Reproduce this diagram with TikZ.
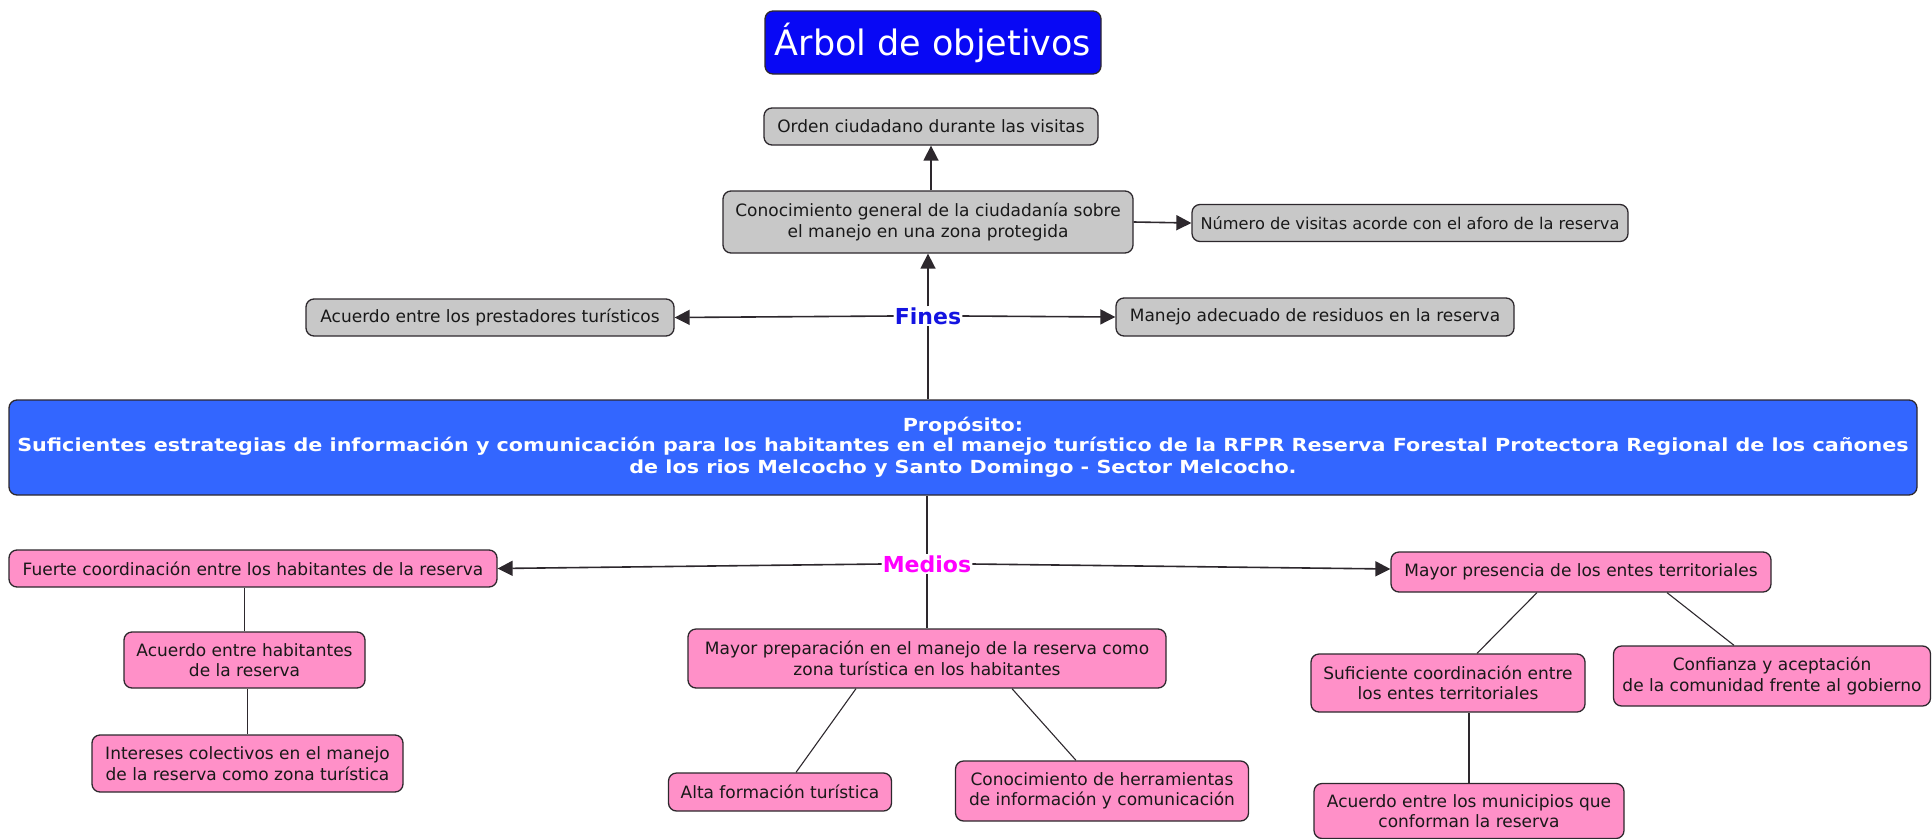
\documentclass[tikz,border=0pt]{standalone}
\usepackage{fontspec}
\setmainfont{DejaVu Sans}
\newfontfamily\propfont{DejaVu Sans}[FakeStretch=1.15]
\usetikzlibrary{arrows.meta}
\definecolor{grayfill}{RGB}{200,200,200}
\definecolor{pinkfill}{RGB}{255,144,200}
\definecolor{propblue}{RGB}{51,102,255}
\definecolor{titleblue}{RGB}{8,8,245}
\definecolor{finesblue}{RGB}{20,20,225}
\definecolor{mediosmag}{RGB}{255,0,255}
\definecolor{edge}{RGB}{45,40,45}
\tikzset{
  box/.style={rectangle, rounded corners=8pt, draw=edge, line width=1.3pt, align=center, inner sep=0pt,
    font=\fontsize{17}{20.5}\selectfont, text=black!90},
  gbox/.style={box, fill=grayfill},
  pbox/.style={box, fill=pinkfill},
  label/.style={inner sep=1pt, font=\fontsize{22}{24}\selectfont\bfseries},
  conn/.style={draw=edge, line width=1.1pt},
  arr/.style={draw=edge, line width=1.6pt, -{Triangle[length=15pt,width=15pt]}},
}
\begin{document}
\begin{tikzpicture}[x=1pt,y=-1pt]
\useasboundingbox (0,0) rectangle (1932,838);
% top
\node[box, fill=titleblue, text=white, minimum width=336pt, minimum height=63pt,
  font=\fontsize{35}{38}\selectfont] (title) at (933,42.5) {Árbol de objetivos};
\node[gbox, minimum width=334pt, minimum height=37pt] (orden) at (931,126.5) {Orden ciudadano durante las visitas};
\node[gbox, minimum width=410pt, minimum height=62pt] (con) at (928,222) {Conocimiento general de la ciudadanía sobre\\el manejo en una zona protegida};
\node[gbox, minimum width=436pt, minimum height=37pt, font=\fontsize{16.2}{20}\selectfont] (num) at (1410,223) {Número de visitas acorde con el aforo de la reserva};
\node[gbox, minimum width=368pt, minimum height=37pt] (prest) at (490,317.5) {Acuerdo entre los prestadores turísticos};
\node[label, text=finesblue] (fines) at (928,316) {Fines};
\node[gbox, minimum width=398pt, minimum height=38pt] (manejo) at (1315,317) {Manejo adecuado de residuos en la reserva};
% purpose
\node[box, fill=propblue, text=white, minimum width=1908pt, minimum height=95pt,
  font=\propfont\fontsize{18}{22.5}\selectfont\bfseries] (prop) at (963,447.5) {\raisebox{-3pt}{Propósito:}\\Suficientes estrategias de información y comunicación para los habitantes en el manejo turístico de la RFPR Reserva Forestal Protectora Regional de los cañones\\de los rios Melcocho y Santo Domingo - Sector Melcocho.};
% means
\node[label, text=mediosmag] (medios) at (927,564) {Medios};
\node[pbox, minimum width=488pt, minimum height=37pt] (fuerte) at (253,568.5) {Fuerte coordinación entre los habitantes de la reserva};
\node[pbox, minimum width=380pt, minimum height=40pt] (pres) at (1581,572) {Mayor presencia de los entes territoriales};
\node[pbox, minimum width=241pt, minimum height=56pt] (acuh) at (244.5,660) {Acuerdo entre habitantes\\de la reserva};
\node[pbox, minimum width=311pt, minimum height=57pt] (inter) at (247.5,763.5) {Intereses colectivos en el manejo\\de la reserva como zona turística};
\node[pbox, minimum width=478pt, minimum height=59pt] (prep) at (927,658.5) {Mayor preparación en el manejo de la reserva como\\zona turística en los habitantes};
\node[pbox, minimum width=223pt, minimum height=38pt] (alta) at (780,792) {Alta formación turística};
\node[pbox, minimum width=293pt, minimum height=60pt] (herr) at (1102,791) {Conocimiento de herramientas\\de información y comunicación};
\node[pbox, minimum width=274pt, minimum height=58pt] (suf) at (1448,683) {Suficiente coordinación entre\\los entes territoriales};
\node[pbox, minimum width=317pt, minimum height=60pt] (conf) at (1772,676) {Confianza y aceptación\\de la comunidad frente al gobierno};
\node[pbox, minimum width=310pt, minimum height=55pt] (muni) at (1469,811) {Acuerdo entre los municipios que\\conforman la reserva};
% connectors (fines)
\draw[arr] (orden.south |- con.north) -- (orden.south);
\draw[arr] (fines.north) -- (fines.north |- con.south);
\draw[arr] (con.east) -- (num.west);
\draw[arr] (fines.west) -- (prest.east);
\draw[arr] (fines.east) -- (manejo.west);
\draw[conn] (fines.south |- prop.north) -- (fines.south);
% connectors (medios)
\draw[conn] (medios.north |- prop.south) -- (medios.north);
\draw[arr] (medios.west) -- (fuerte.east);
\draw[arr] (medios.east) -- ([yshift=3pt]pres.west);
\draw[conn] (medios.south) -- (medios.south |- prep.north);
\draw[conn] (acuh.north) -- (acuh.north |- fuerte.south);
\draw[conn] (inter.north) -- (inter.north |- acuh.south);
\draw[conn] ([xshift=-71pt]prep.south) -- ([xshift=16pt]alta.north);
\draw[conn] ([xshift=85pt]prep.south) -- ([xshift=-26pt]herr.north);
\draw[conn] ([xshift=-44pt]pres.south) -- ([xshift=29pt]suf.north);
\draw[conn] ([xshift=86pt]pres.south) -- ([xshift=-38pt]conf.north);
\draw[conn] (muni.north) -- (muni.north |- suf.south);
\end{tikzpicture}
\end{document}
